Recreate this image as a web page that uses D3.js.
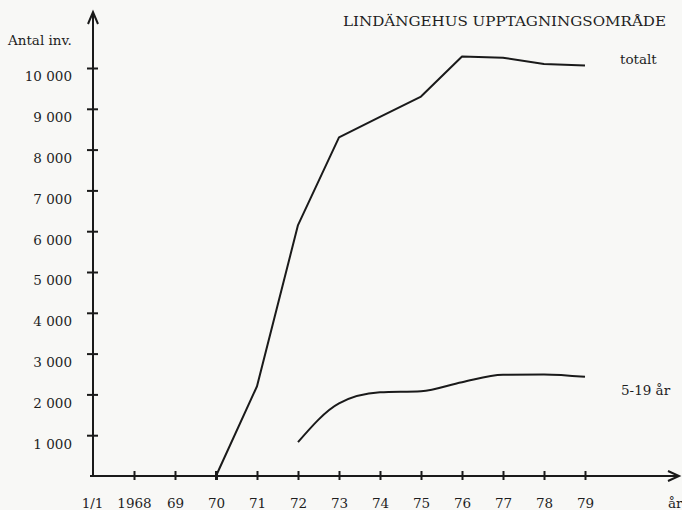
<!DOCTYPE html>
<html lang="sv">
<head>
    <meta charset="UTF-8">
    <title>Lindängehus upptagningsområde</title>
    <style>
        body {
            margin: 0;
            background-color: #f8f8f6;
        }

        svg {
            display: block;
        }

        text {
            font-family: "DejaVu Serif", "Liberation Serif", serif;
            fill: #1e1e1e;
        }

        .axis path,
        .axis line {
            stroke: #1a1a1a;
            stroke-width: 2px;
        }

        .series {
            fill: none;
            stroke: #1a1a1a;
            stroke-width: 2px;
            stroke-linejoin: round;
        }
    </style>
    <script src="https://d3js.org/d3.v7.min.js"></script>
</head>
<body>

<script>
    // year ticks, 1967 is the origin ("1/1")
    const xTicks = [1967, 1968, 1969, 1970, 1971, 1972, 1973, 1974, 1975, 1976, 1977, 1978, 1979];
    const xLabels = ["1/1", "1968", "69", "70", "71", "72", "73", "74", "75", "76", "77", "78", "79"];
    const yTicks = [1000, 2000, 3000, 4000, 5000, 6000, 7000, 8000, 9000, 10000];

    const totalYears = [1970, 1971, 1972, 1973, 1974, 1975, 1976, 1977, 1978, 1979];
    const totalValues = [0, 2200, 6150, 8300, 8800, 9300, 10280, 10250, 10100, 10060];

    const youngYears = [1972, 1973, 1974, 1975, 1976, 1977, 1978, 1979];
    const youngValues = [830, 1780, 2050, 2080, 2300, 2480, 2490, 2430];

    const width = 682;
    const height = 510;

    const svg = d3.select("body")
                  .append("svg")
                  .attr("width", width)
                  .attr("height", height);

    const x = d3.scaleLinear()
                .domain([1967, 1979])
                .range([93, 585]);

    const y = d3.scaleLinear()
                .domain([0, 10000])
                .range([476, 68]);

    const fmt = d3.formatLocale({ decimal: ",", thousands: " ", grouping: [3], currency: ["", " kr"] }).format(",d");

    // y axis
    const yAxis = svg.append("g")
                     .attr("class", "axis")
                     .attr("transform", `translate(${x(1967)},0)`)
                     .call(d3.axisLeft(y).tickValues(yTicks).tickSize(6).tickSizeOuter(0).tickFormat(fmt));

    yAxis.select(".domain").remove();
    yAxis.selectAll(".tick line").attr("x1", -6).attr("x2", 5);
    yAxis.selectAll(".tick text")
         .attr("x", -21)
         .attr("dy", "0.95em")
         .style("font-size", "13.5px");

    // x axis
    const xAxis = svg.append("g")
                     .attr("class", "axis")
                     .attr("transform", `translate(0,${y(0)})`)
                     .call(d3.axisBottom(x).tickValues(xTicks).tickSize(4).tickSizeOuter(0)
                             .tickFormat((d, i) => xLabels[i]));

    xAxis.select(".domain").remove();
    xAxis.selectAll(".tick line")
         .attr("y1", -5)
         .attr("y2", 4)
         .style("stroke-width", d => d === 1970 ? 3 : 2)
         .style("display", d => d === 1967 ? "none" : null);
    xAxis.selectAll(".tick text")
         .attr("y", 22)
         .attr("dy", "0.71em")
         .attr("dx", d => d === 1967 ? -1 : 0)
         .style("font-size", "13.5px");

    // axis lines with arrows
    svg.append("line")
       .attr("x1", x(1967)).attr("y1", y(0) + 1)
       .attr("x2", x(1967)).attr("y2", 14)
       .attr("stroke", "#1a1a1a").attr("stroke-width", 2);
    svg.append("path")
       .attr("d", `M${x(1967) - 5},24 L${x(1967)},12 L${x(1967) + 5},24`)
       .attr("fill", "none").attr("stroke", "#1a1a1a").attr("stroke-width", 2);

    svg.append("line")
       .attr("x1", x(1967) - 3).attr("y1", y(0))
       .attr("x2", 677).attr("y2", y(0))
       .attr("stroke", "#1a1a1a").attr("stroke-width", 2);
    svg.append("path")
       .attr("d", `M668,${y(0) - 5} L679,${y(0)} L668,${y(0) + 5}`)
       .attr("fill", "none").attr("stroke", "#1a1a1a").attr("stroke-width", 2);

    // series
    const lineTotal = d3.line()
                        .x((d, i) => x(totalYears[i]))
                        .y(d => y(d));

    const lineYoung = d3.line()
                        .curve(d3.curveMonotoneX)
                        .x((d, i) => x(youngYears[i]))
                        .y(d => y(d));

    svg.append("path")
       .attr("class", "series")
       .attr("d", lineTotal(totalValues));

    svg.append("path")
       .attr("class", "series")
       .attr("d", lineYoung(youngValues));

    // texts
    svg.append("text")
       .attr("x", 343).attr("y", 26)
       .attr("textLength", 323).attr("lengthAdjust", "spacingAndGlyphs")
       .style("font-size", "13px")
       .text("LINDÄNGEHUS UPPTAGNINGSOMRÅDE");

    svg.append("text")
       .attr("x", 8).attr("y", 45)
       .style("font-size", "13.5px")
       .text("Antal inv.");

    svg.append("text")
       .attr("x", 620).attr("y", 64)
       .style("font-size", "13.5px")
       .text("totalt");

    svg.append("text")
       .attr("x", 621).attr("y", 395)
       .style("font-size", "13.5px")
       .text("5-19 år");

    svg.append("text")
       .attr("x", 668).attr("y", 508)
       .style("font-size", "13.5px")
       .text("år");
</script>

</body>
</html>
